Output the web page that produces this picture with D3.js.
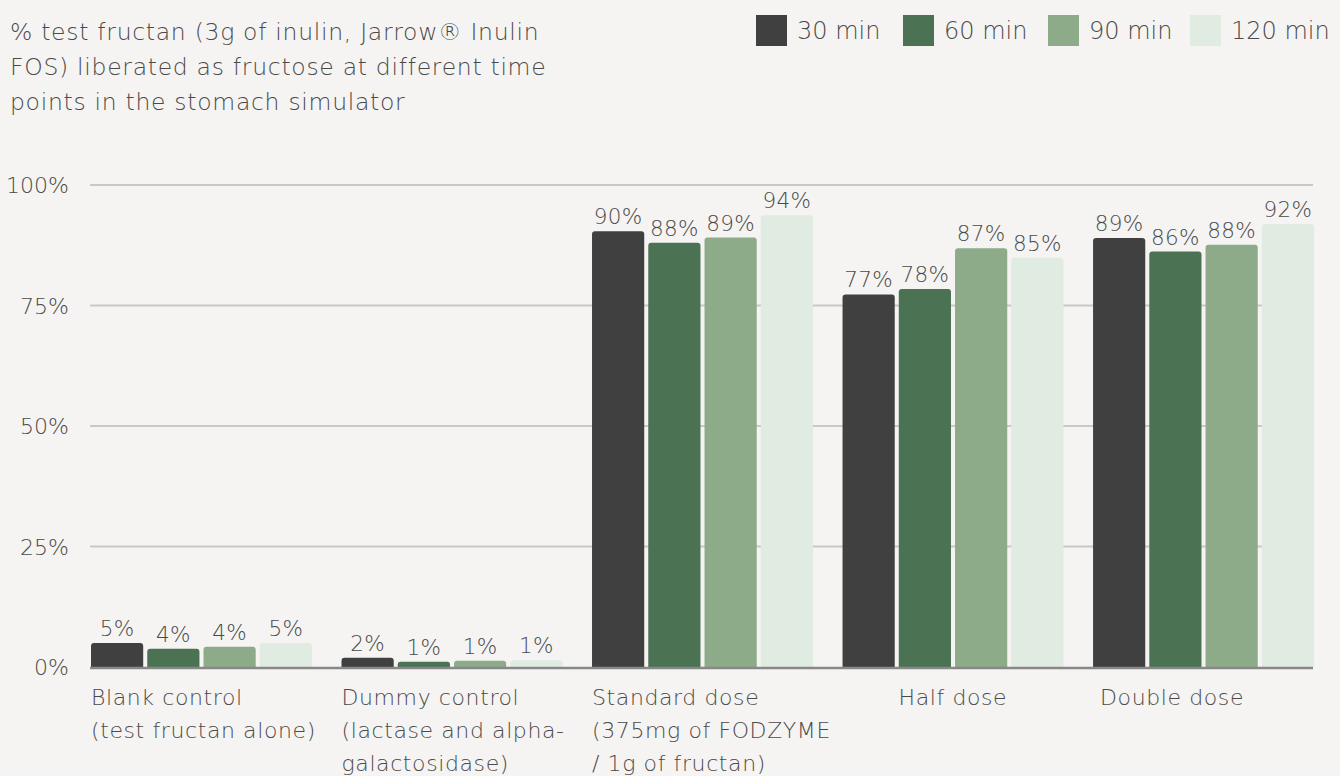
<!DOCTYPE html>
<html><head><meta charset="utf-8">
<script src="https://cdn.jsdelivr.net/npm/d3@7"></script>
<style>
html,body{margin:0;padding:0;background:#f5f4f2;}
svg{display:block;}
svg text{font-family:"DejaVu Sans","Open Sans",sans-serif;font-weight:200;}
</style></head>
<body>
<svg id="chart" width="1340" height="776"></svg>
<script>
const categories = [
  ["Blank control", "(test fructan alone)"],
  ["Dummy control", "(lactase and alpha-", "galactosidase)"],
  ["Standard dose", "(375mg of FODZYME", "/ 1g of fructan)"],
  ["Half dose"],
  ["Double dose"]
];
const seriesNames = ["30 min", "60 min", "90 min", "120 min"];
const min30  = [5.0, 1.9, 90.4, 77.3, 89.0];
const min60  = [3.8, 1.1, 88.0, 78.4, 86.2];
const min90  = [4.2, 1.3, 89.1, 86.9, 87.6];
const min120 = [5.0, 1.4, 93.7, 84.9, 91.9];
const yTicks = [0, 25, 50, 75, 100];
const colors = ["#404040", "#4b7252", "#8dab89", "#e0ebe2"];
const title = ["% test fructan (3g of inulin, Jarrow\u00ae Inulin", "FOS) liberated as fructose at different time", "points in the stomach simulator"];

const series = [min30, min60, min90, min120];
const svg = d3.select("#chart");
const textColor = "#4a4a4a";

const y = d3.scaleLinear().domain([0, 100]).range([667, 185]);
const x0 = d3.scaleBand().domain(d3.range(categories.length)).range([91, 1314]).paddingInner(0.118).paddingOuter(0);
const x1 = d3.scaleBand().domain(d3.range(seriesNames.length)).range([0, x0.bandwidth()]).paddingInner(0.072);

// title
svg.append("text").attr("x", 10).attr("y", 40).attr("fill", textColor)
  .style("font-size", "23.5px").style("letter-spacing", "0.7px")
  .selectAll("tspan").data(title).join("tspan")
  .attr("x", 10).attr("dy", (d, i) => i === 0 ? 0 : 35).text(d => d);

// legend
const legendX = [756, 903, 1048, 1190];
const lg = svg.append("g").selectAll("g").data(seriesNames).join("g")
  .attr("transform", (d, i) => `translate(${legendX[i]},15)`);
lg.append("rect").attr("width", 31).attr("height", 31).attr("fill", (d, i) => colors[i]);
lg.append("text").attr("x", 41).attr("y", 24).attr("fill", textColor)
  .style("font-size", "24px").text(d => d);

// gridlines
const grid = svg.append("g");
grid.selectAll("line").data(yTicks.filter(t => t > 0)).join("line")
  .attr("x1", 90).attr("x2", 1313).attr("y1", d => y(d)).attr("y2", d => y(d))
  .attr("stroke", "#c9c8c6").attr("stroke-width", 2);

// y axis labels
const yAxis = d3.axisLeft(y).tickValues(yTicks).tickFormat(d => d + "%").tickSize(0).tickPadding(0);
const ya = svg.append("g").attr("transform", "translate(69,0)").call(yAxis);
ya.select(".domain").remove();
ya.attr("font-family", null).attr("font-size", null);
ya.selectAll("text").attr("fill", textColor).style("font-size", "22px").attr("dy", "0.35em");

// bars
const r = 3;
function barPath(x, yt, w, yb) {
  const h = yb - yt;
  const rr = Math.min(r, h / 2, w / 2);
  return `M${x},${yb}V${yt + rr}Q${x},${yt} ${x + rr},${yt}H${x + w - rr}Q${x + w},${yt} ${x + w},${yt + rr}V${yb}Z`;
}
const groups = svg.append("g").selectAll("g").data(categories).join("g")
  .attr("transform", (d, i) => `translate(${x0(i)},0)`);
groups.each(function(c, ci) {
  const g = d3.select(this);
  const vals = series.map((s, si) => ({si, v: s[ci]}));
  g.selectAll("path").data(vals).join("path")
    .attr("d", d => barPath(x1(d.si), y(d.v), x1.bandwidth(), y(0)))
    .attr("fill", d => colors[d.si]);
  g.selectAll("text.val").data(vals).join("text").attr("class", "val")
    .attr("x", d => x1(d.si) + x1.bandwidth() / 2)
    .attr("y", d => y(d.v) - 7)
    .attr("text-anchor", "middle").attr("fill", textColor)
    .style("font-size", "21.5px").style("letter-spacing", "0.3px")
    .text(d => Math.round(d.v) + "%");
});

// baseline
svg.append("line").attr("x1", 90).attr("x2", 1313).attr("y1", y(0) + 1).attr("y2", y(0) + 1)
  .attr("stroke", "#888888").attr("stroke-width", 2.5);

// category labels
const labelOffset = [0, 0, 0, 56, 7];
svg.append("g").selectAll("text").data(categories).join("text")
  .attr("fill", textColor).style("font-size", "22px").style("letter-spacing", "0.6px")
  .attr("y", 705)
  .each(function(lines, i) {
    d3.select(this).selectAll("tspan").data(lines).join("tspan")
      .attr("x", x0(i) + labelOffset[i]).attr("dy", (d, j) => j === 0 ? 0 : 33).text(d => d);
  });
</script>
</body></html>
